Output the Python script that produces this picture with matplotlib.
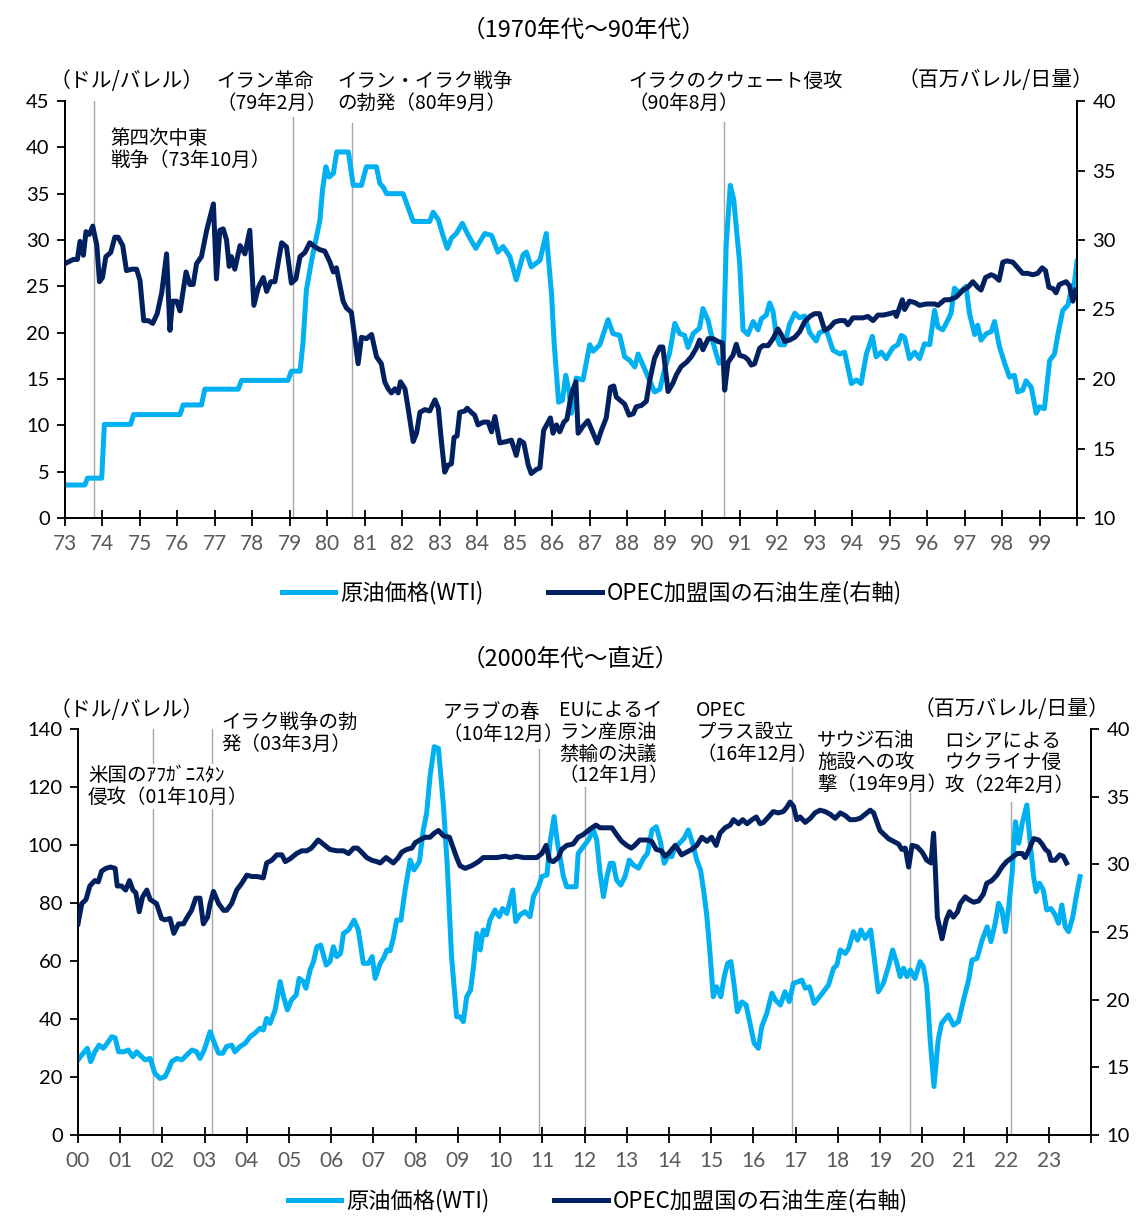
import matplotlib
matplotlib.use('Agg')
import matplotlib.pyplot as plt
from matplotlib.lines import Line2D

plt.rcParams['font.family'] = ['Noto Sans CJK JP', 'DejaVu Sans']

LIGHT = '#00B0F0'
DARK = '#002060'
GRAY_LINE = '#A6A6A6'

# ---- 1970s-90s ----
wti70_t = [1973.0, 1973.53, 1973.6, 1973.98, 1974.05, 1974.75, 1974.83, 1976.07, 1976.15, 1976.64,
           1976.73, 1977.62, 1977.71, 1978.95, 1979.04, 1979.27, 1979.35, 1979.44, 1979.58, 1979.8,
           1979.87, 1979.96, 1980.05, 1980.16, 1980.25, 1980.56, 1980.69, 1980.91, 1981.04, 1981.31,
           1981.4, 1981.49, 1981.58, 1982.02, 1982.29, 1982.73, 1982.82, 1982.96, 1983.09, 1983.2,
           1983.31, 1983.44, 1983.6, 1983.8, 1983.96, 1984.2, 1984.38, 1984.55, 1984.69, 1984.87,
           1985.04, 1985.22, 1985.31, 1985.44, 1985.67, 1985.84, 1985.98, 1986.05, 1986.17, 1986.27,
           1986.36, 1986.45, 1986.51, 1986.64, 1986.82, 1987.0, 1987.09, 1987.27, 1987.49, 1987.62,
           1987.8, 1987.93, 1988.07, 1988.2, 1988.29, 1988.56, 1988.73, 1988.87, 1989.0, 1989.13,
           1989.27, 1989.4, 1989.53, 1989.62, 1989.76, 1989.93, 1990.02, 1990.16, 1990.29, 1990.45,
           1990.56, 1990.64, 1990.75, 1990.84, 1991.0, 1991.09, 1991.22, 1991.36, 1991.49, 1991.58,
           1991.71, 1991.8, 1991.89, 1991.98, 1992.07, 1992.2, 1992.33, 1992.47, 1992.6, 1992.73,
           1992.87, 1993.04, 1993.13, 1993.31, 1993.49, 1993.67, 1993.8, 1993.98, 1994.11, 1994.24,
           1994.38, 1994.54, 1994.64, 1994.78, 1994.91, 1995.09, 1995.22, 1995.31, 1995.4, 1995.53,
           1995.67, 1995.8, 1995.93, 1996.07, 1996.2, 1996.29, 1996.42, 1996.56, 1996.64, 1996.73,
           1996.87, 1997.04, 1997.13, 1997.27, 1997.35, 1997.44, 1997.58, 1997.71, 1997.8, 1997.93,
           1998.07, 1998.2, 1998.33, 1998.42, 1998.55, 1998.64, 1998.78, 1998.91, 1999.0, 1999.13,
           1999.27, 1999.4, 1999.49, 1999.62, 1999.76, 1999.84, 1999.93, 2000.0]
wti70_v = [3.56, 3.56, 4.3, 4.3, 10.1, 10.1, 11.16, 11.16, 12.2, 12.2,
           13.9, 13.9, 14.85, 14.85, 15.85, 15.85, 18.9, 24.6, 27.8, 32.1,
           35.4, 37.9, 36.8, 37.2, 39.5, 39.5, 35.9, 35.9, 37.9, 37.9,
           36.1, 35.7, 35.0, 35.0, 32.0, 32.0, 33.0, 32.2, 30.4, 29.1,
           30.2, 30.7, 31.8, 30.2, 29.1, 30.7, 30.5, 28.7, 29.3, 28.2,
           25.7, 28.4, 28.7, 27.1, 27.8, 30.7, 24.2, 18.9, 12.5, 12.7,
           15.4, 13.6, 11.3, 15.1, 14.9, 18.7, 18.0, 18.7, 21.4, 19.9,
           19.7, 17.4, 17.0, 16.3, 17.7, 15.2, 13.6, 13.9, 16.1, 17.8,
           21.0, 19.9, 19.7, 18.4, 19.9, 20.5, 22.6, 21.3, 18.9, 16.7,
           17.1, 29.5, 35.9, 34.4, 27.5, 20.3, 19.8, 21.2, 20.3, 21.5,
           21.9, 23.2, 22.3, 19.6, 18.7, 18.7, 20.9, 22.1, 21.6, 21.8,
           20.0, 19.1, 20.0, 20.3, 18.1, 17.7, 17.9, 14.5, 14.9, 14.5,
           17.7, 19.6, 17.4, 17.9, 17.2, 18.4, 18.7, 19.7, 19.5, 17.2,
           17.9, 17.2, 18.8, 18.7, 22.4, 20.6, 20.3, 21.4, 22.1, 24.8,
           24.3, 25.0, 22.1, 19.8, 20.8, 19.2, 19.9, 20.1, 21.2, 18.5,
           16.7, 15.2, 15.4, 13.6, 13.8, 14.8, 14.1, 11.3, 12.0, 11.8,
           17.0, 17.7, 19.8, 22.4, 23.0, 24.5, 25.4, 27.7]

opec70_t = [1973.0, 1973.22, 1973.33, 1973.4, 1973.49, 1973.56, 1973.65, 1973.74, 1973.85, 1973.92,
            1974.0, 1974.09, 1974.22, 1974.33, 1974.42, 1974.54, 1974.64, 1974.78, 1974.91, 1975.0,
            1975.1, 1975.22, 1975.34, 1975.46, 1975.58, 1975.71, 1975.8, 1975.87, 1975.98, 1976.07,
            1976.23, 1976.33, 1976.42, 1976.51, 1976.64, 1976.78, 1976.96, 1977.04, 1977.13, 1977.22,
            1977.31, 1977.38, 1977.44, 1977.53, 1977.67, 1977.8, 1977.93, 1978.04, 1978.16, 1978.29,
            1978.38, 1978.49, 1978.6, 1978.69, 1978.78, 1978.91, 1979.04, 1979.16, 1979.27, 1979.4,
            1979.53, 1979.67, 1979.8, 1979.93, 1980.07, 1980.16, 1980.24, 1980.33, 1980.42, 1980.51,
            1980.64, 1980.73, 1980.82, 1980.91, 1981.04, 1981.18, 1981.31, 1981.44, 1981.53, 1981.62,
            1981.71, 1981.8, 1981.89, 1981.95, 1982.07, 1982.16, 1982.29, 1982.38, 1982.47, 1982.6,
            1982.73, 1982.87, 1982.96, 1983.04, 1983.13, 1983.22, 1983.31, 1983.38, 1983.46, 1983.53,
            1983.67, 1983.73, 1983.84, 1983.93, 1984.02, 1984.16, 1984.29, 1984.38, 1984.47, 1984.6,
            1984.78, 1984.91, 1985.04, 1985.13, 1985.24, 1985.36, 1985.44, 1985.58, 1985.67, 1985.77,
            1985.89, 1985.95, 1986.02, 1986.11, 1986.2, 1986.31, 1986.39, 1986.51, 1986.63, 1986.69,
            1986.82, 1986.95, 1987.09, 1987.2, 1987.31, 1987.44, 1987.55, 1987.64, 1987.71, 1987.84,
            1987.93, 1988.05, 1988.16, 1988.24, 1988.38, 1988.51, 1988.6, 1988.73, 1988.87, 1988.95,
            1989.09, 1989.22, 1989.31, 1989.44, 1989.58, 1989.71, 1989.84, 1989.93, 1990.02, 1990.16,
            1990.29, 1990.42, 1990.54, 1990.6, 1990.69, 1990.82, 1990.91, 1991.0, 1991.13, 1991.22,
            1991.31, 1991.4, 1991.53, 1991.62, 1991.76, 1991.89, 1992.02, 1992.11, 1992.2, 1992.33,
            1992.47, 1992.6, 1992.73, 1992.87, 1993.0, 1993.13, 1993.27, 1993.4, 1993.53, 1993.67,
            1993.8, 1993.89, 1994.02, 1994.15, 1994.29, 1994.42, 1994.56, 1994.69, 1994.83, 1995.0,
            1995.13, 1995.18, 1995.34, 1995.4, 1995.53, 1995.67, 1995.8, 1995.98, 1996.2, 1996.29,
            1996.47, 1996.6, 1996.78, 1996.96, 1997.09, 1997.22, 1997.35, 1997.44, 1997.56, 1997.71,
            1997.8, 1997.92, 1998.02, 1998.13, 1998.29, 1998.42, 1998.55, 1998.68, 1998.82, 1998.95,
            1999.07, 1999.16, 1999.25, 1999.36, 1999.44, 1999.53, 1999.71, 1999.8, 1999.89, 1999.97]
opec70_v = [28.3, 28.6, 28.6, 29.9, 28.9, 30.6, 30.4, 31.0, 29.6, 27.0,
            27.3, 28.8, 29.1, 30.2, 30.2, 29.6, 27.8, 27.9, 27.9, 27.1,
            24.2, 24.2, 24.0, 24.7, 26.2, 29.0, 23.5, 25.6, 25.6, 24.9,
            27.7, 26.8, 26.8, 28.3, 28.8, 30.7, 32.6, 27.2, 30.7, 30.8,
            30.0, 28.1, 28.8, 27.9, 29.6, 29.0, 30.7, 25.3, 26.6, 27.3,
            26.3, 27.0, 27.0, 28.4, 29.8, 29.5, 26.9, 27.2, 28.8, 29.1,
            29.8, 29.5, 29.3, 29.2, 28.4, 27.7, 28.0, 26.8, 25.6, 25.1,
            24.8, 23.0, 21.1, 23.0, 22.9, 23.2, 21.6, 21.1, 19.8, 19.3,
            19.0, 19.3, 19.0, 19.8, 19.3, 17.8, 15.5, 16.1, 17.6, 17.8,
            17.7, 18.5, 17.9, 15.6, 13.3, 13.8, 13.9, 15.8, 15.9, 17.6,
            17.7, 17.9, 17.6, 17.4, 16.7, 16.9, 16.9, 16.2, 17.3, 15.4,
            15.5, 15.6, 14.5, 15.6, 15.4, 13.8, 13.2, 13.5, 13.6, 16.3,
            16.9, 17.2, 16.1, 16.7, 16.2, 16.9, 17.1, 18.9, 19.8, 16.1,
            16.6, 17.0, 16.1, 15.4, 16.3, 17.2, 19.4, 19.5, 18.7, 18.4,
            18.2, 17.4, 17.5, 18.0, 18.1, 18.4, 19.9, 21.5, 22.3, 22.3,
            19.1, 19.7, 20.3, 20.9, 21.2, 21.6, 22.2, 22.8, 22.1, 22.9,
            22.9, 22.7, 22.6, 19.2, 21.2, 21.7, 22.5, 21.7, 21.6, 21.4,
            21.0, 21.1, 22.2, 22.4, 22.4, 22.9, 23.6, 23.2, 22.7, 22.8,
            23.0, 23.4, 24.1, 24.5, 24.7, 24.7, 23.5, 23.7, 24.1, 24.2,
            24.2, 23.9, 24.4, 24.4, 24.4, 24.5, 24.2, 24.6, 24.6, 24.7,
            24.8, 24.5, 25.7, 25.0, 25.6, 25.5, 25.3, 25.4, 25.4, 25.3,
            25.7, 25.7, 25.9, 26.4, 26.6, 27.0, 26.6, 26.4, 27.3, 27.5,
            27.4, 27.1, 28.4, 28.5, 28.4, 28.0, 27.6, 27.6, 27.5, 27.6,
            28.0, 27.8, 26.6, 26.5, 26.2, 26.8, 27.0, 26.7, 25.6, 26.4]

# ---- 2000s-latest ----
wti00_t = [2000.0, 2000.09, 2000.22, 2000.3, 2000.4, 2000.5, 2000.6, 2000.69, 2000.8, 2000.88,
           2000.96, 2001.09, 2001.19, 2001.3, 2001.39, 2001.47, 2001.59, 2001.71, 2001.82, 2001.94,
           2002.06, 2002.14, 2002.22, 2002.34, 2002.46, 2002.58, 2002.7, 2002.81, 2002.89, 2002.99,
           2003.13, 2003.25, 2003.33, 2003.43, 2003.52, 2003.64, 2003.72, 2003.84, 2003.96, 2004.08,
           2004.19, 2004.31, 2004.39, 2004.47, 2004.55, 2004.67, 2004.79, 2004.87, 2004.96, 2005.06,
           2005.17, 2005.24, 2005.34, 2005.4, 2005.5, 2005.58, 2005.66, 2005.75, 2005.88, 2005.97,
           2006.05, 2006.13, 2006.22, 2006.29, 2006.41, 2006.54, 2006.64, 2006.76, 2006.88, 2006.97,
           2007.04, 2007.16, 2007.24, 2007.32, 2007.39, 2007.47, 2007.55, 2007.65, 2007.75, 2007.87,
           2007.96, 2008.09, 2008.18, 2008.26, 2008.34, 2008.44, 2008.54, 2008.66, 2008.75, 2008.85,
           2008.97, 2009.05, 2009.13, 2009.21, 2009.3, 2009.37, 2009.45, 2009.53, 2009.6, 2009.68,
           2009.76, 2009.88, 2009.98, 2010.06, 2010.16, 2010.24, 2010.3, 2010.37, 2010.47, 2010.59,
           2010.71, 2010.79, 2010.91, 2010.99, 2011.11, 2011.18, 2011.28, 2011.36, 2011.42, 2011.5,
           2011.58, 2011.7, 2011.8, 2011.85, 2011.97, 2012.09, 2012.21, 2012.29, 2012.37, 2012.45,
           2012.53, 2012.61, 2012.68, 2012.76, 2012.86, 2012.96, 2013.06, 2013.16, 2013.28, 2013.4,
           2013.49, 2013.6, 2013.7, 2013.79, 2013.89, 2013.97, 2014.07, 2014.15, 2014.25, 2014.36,
           2014.46, 2014.56, 2014.66, 2014.75, 2014.82, 2014.9, 2014.98, 2015.05, 2015.13, 2015.23,
           2015.31, 2015.39, 2015.47, 2015.55, 2015.62, 2015.73, 2015.83, 2015.92, 2016.02, 2016.12,
           2016.2, 2016.32, 2016.44, 2016.52, 2016.64, 2016.75, 2016.85, 2016.95, 2017.07, 2017.15,
           2017.23, 2017.33, 2017.44, 2017.54, 2017.66, 2017.78, 2017.9, 2017.98, 2018.06, 2018.18,
           2018.26, 2018.37, 2018.47, 2018.55, 2018.65, 2018.78, 2018.86, 2018.96, 2019.08, 2019.2,
           2019.3, 2019.4, 2019.48, 2019.56, 2019.64, 2019.72, 2019.83, 2019.95, 2020.03, 2020.11,
           2020.19, 2020.28, 2020.38, 2020.46, 2020.62, 2020.74, 2020.86, 2020.98, 2021.1, 2021.18,
           2021.3, 2021.42, 2021.54, 2021.63, 2021.73, 2021.81, 2021.89, 2021.97, 2022.05, 2022.13,
           2022.21, 2022.29, 2022.37, 2022.48, 2022.56, 2022.64, 2022.7, 2022.78, 2022.87, 2022.95,
           2023.05, 2023.15, 2023.23, 2023.31, 2023.39, 2023.47, 2023.57, 2023.65, 2023.74]
wti00_v = [25.9, 27.6, 29.9, 25.3, 28.7, 31.0, 29.9, 31.6, 33.9, 33.5,
           28.7, 28.7, 29.3, 27.0, 28.7, 27.5, 25.9, 26.4, 21.3, 19.5,
           20.1, 22.4, 25.3, 26.4, 25.9, 27.6, 29.3, 28.7, 26.4, 29.3,
           35.6, 31.0, 28.2, 28.2, 30.5, 31.0, 28.7, 30.5, 31.6, 33.9,
           35.1, 36.8, 36.2, 40.2, 38.5, 43.1, 52.9, 47.7, 43.1, 46.6,
           48.3, 54.0, 52.9, 50.6, 56.9, 59.8, 64.9, 65.5, 58.6, 59.8,
           64.9, 61.5, 62.6, 69.5, 70.7, 74.1, 70.7, 59.2, 59.2, 61.5,
           54.0, 59.2, 61.0, 63.8, 63.5, 67.8, 74.1, 74.1, 84.5, 94.8,
           91.4, 94.3, 105.2, 110.9, 123.6, 133.9, 133.3, 113.2, 92.5, 61.5,
           40.8, 40.8, 39.1, 47.7, 50.0, 58.0, 69.5, 63.8, 70.7, 69.0,
           74.1, 77.6, 75.3, 78.1, 76.4, 81.0, 84.5, 73.6, 75.9, 77.0,
           75.3, 82.2, 85.6, 89.1, 89.7, 100.6, 109.8, 100.6, 96.0, 89.1,
           85.6, 85.6, 85.6, 97.1, 99.4, 101.7, 105.2, 101.7, 90.2, 82.2,
           89.1, 93.7, 93.7, 87.9, 86.2, 89.1, 94.8, 93.1, 92.0, 95.4,
           97.1, 105.2, 106.3, 101.7, 93.7, 96.0, 96.0, 99.4, 100.6, 102.3,
           105.2, 100.6, 94.8, 91.4, 84.5, 75.3, 61.5, 47.7, 51.1, 47.7,
           54.6, 59.2, 59.8, 51.1, 42.5, 45.9, 44.8, 38.5, 31.6, 29.9,
           37.4, 42.0, 48.9, 46.6, 44.8, 49.4, 46.0, 52.3, 52.9, 53.4,
           50.6, 51.1, 45.4, 47.1, 49.4, 51.7, 57.5, 58.6, 63.8, 62.6,
           64.4, 70.1, 67.2, 70.7, 67.8, 70.7, 61.5, 49.4, 52.3, 58.0,
           63.8, 59.2, 54.6, 57.5, 54.6, 56.9, 54.0, 59.8, 58.0, 51.1,
           32.8, 16.7, 32.8, 38.5, 41.4, 37.9, 39.1, 46.6, 53.4, 60.3,
           60.9, 67.2, 71.8, 66.7, 73.0, 79.9, 77.6, 70.1, 78.7, 90.2,
           108.0, 100.6, 107.5, 113.8, 100.6, 89.1, 83.9, 86.8, 84.5, 77.6,
           78.1, 75.9, 73.0, 79.3, 71.8, 70.1, 75.3, 82.2, 89.1]

opec00_t = [2000.0, 2000.09, 2000.19, 2000.28, 2000.4, 2000.48, 2000.56, 2000.66, 2000.77, 2000.88,
            2000.93, 2001.03, 2001.13, 2001.22, 2001.3, 2001.37, 2001.45, 2001.53, 2001.63, 2001.71,
            2001.86, 2001.98, 2002.06, 2002.18, 2002.27, 2002.38, 2002.5, 2002.57, 2002.69, 2002.79,
            2002.89, 2002.97, 2003.07, 2003.13, 2003.21, 2003.33, 2003.45, 2003.52, 2003.64, 2003.76,
            2003.88, 2004.0, 2004.12, 2004.24, 2004.39, 2004.47, 2004.59, 2004.71, 2004.83, 2004.91,
            2005.02, 2005.18, 2005.3, 2005.42, 2005.53, 2005.69, 2005.81, 2005.97, 2006.13, 2006.29,
            2006.41, 2006.53, 2006.62, 2006.72, 2006.84, 2006.96, 2007.08, 2007.16, 2007.3, 2007.47,
            2007.59, 2007.67, 2007.79, 2007.91, 2007.99, 2008.1, 2008.22, 2008.34, 2008.44, 2008.54,
            2008.66, 2008.8, 2008.89, 2008.97, 2009.05, 2009.17, 2009.33, 2009.49, 2009.6, 2009.76,
            2009.92, 2010.12, 2010.24, 2010.39, 2010.55, 2010.71, 2010.87, 2010.99, 2011.09, 2011.17,
            2011.26, 2011.38, 2011.46, 2011.58, 2011.73, 2011.85, 2011.97, 2012.13, 2012.27, 2012.37,
            2012.53, 2012.65, 2012.76, 2012.88, 2013.0, 2013.11, 2013.19, 2013.31, 2013.47, 2013.59,
            2013.7, 2013.82, 2013.91, 2013.99, 2014.07, 2014.15, 2014.22, 2014.3, 2014.42, 2014.54,
            2014.66, 2014.78, 2014.9, 2015.01, 2015.12, 2015.21, 2015.33, 2015.45, 2015.53, 2015.65,
            2015.75, 2015.85, 2015.97, 2016.07, 2016.16, 2016.24, 2016.36, 2016.47, 2016.59, 2016.71,
            2016.79, 2016.87, 2016.95, 2017.03, 2017.11, 2017.23, 2017.35, 2017.46, 2017.58, 2017.7,
            2017.82, 2017.94, 2018.06, 2018.18, 2018.29, 2018.41, 2018.53, 2018.65, 2018.77, 2018.85,
            2018.93, 2019.0, 2019.1, 2019.2, 2019.32, 2019.44, 2019.52, 2019.6, 2019.68, 2019.76,
            2019.88, 2020.0, 2020.11, 2020.21, 2020.27, 2020.31, 2020.36, 2020.47, 2020.57, 2020.65,
            2020.74, 2020.84, 2020.9, 2021.02, 2021.1, 2021.22, 2021.34, 2021.45, 2021.53, 2021.65,
            2021.77, 2021.89, 2022.0, 2022.13, 2022.25, 2022.37, 2022.44, 2022.52, 2022.64, 2022.76,
            2022.84, 2022.92, 2023.0, 2023.05, 2023.15, 2023.26, 2023.34, 2023.42]
opec00_v = [25.6, 27.1, 27.4, 28.4, 28.8, 28.7, 29.5, 29.7, 29.8, 29.7,
            28.4, 28.4, 28.1, 28.8, 28.1, 27.9, 26.5, 27.6, 28.1, 27.4,
            27.1, 26.0, 25.9, 26.0, 24.9, 25.6, 25.6, 26.0, 26.6, 27.5,
            27.5, 25.6, 26.1, 27.1, 28.0, 27.1, 26.6, 26.6, 27.1, 28.1,
            28.6, 29.2, 29.1, 29.1, 29.0, 30.1, 30.3, 30.7, 30.7, 30.2,
            30.4, 30.8, 31.0, 31.0, 31.2, 31.8, 31.5, 31.1, 31.0, 31.0,
            30.8, 31.2, 31.2, 30.9, 30.5, 30.3, 30.2, 30.1, 30.5, 30.1,
            30.5, 30.9, 31.1, 31.2, 31.6, 31.8, 32.0, 32.0, 32.3, 32.5,
            32.1, 32.0, 31.2, 30.5, 29.9, 29.7, 29.9, 30.2, 30.5, 30.5,
            30.5, 30.6, 30.5, 30.6, 30.5, 30.5, 30.5, 30.8, 31.4, 30.3,
            30.2, 30.5, 31.1, 31.4, 31.5, 32.0, 32.2, 32.6, 32.9, 32.7,
            32.7, 32.7, 32.2, 31.7, 31.4, 31.2, 31.4, 31.8, 31.8, 31.7,
            31.1, 31.0, 30.6, 30.8, 31.1, 31.4, 31.1, 30.7, 30.9, 31.1,
            31.4, 32.0, 31.7, 32.0, 31.4, 32.3, 32.7, 32.9, 33.3, 33.0,
            33.3, 33.0, 33.3, 33.5, 33.0, 33.1, 33.5, 33.9, 33.8, 33.9,
            34.2, 34.6, 34.3, 33.3, 33.5, 33.1, 33.4, 33.8, 34.0, 33.9,
            33.7, 33.4, 33.8, 33.6, 33.3, 33.3, 33.4, 33.7, 34.0, 33.8,
            33.1, 32.5, 32.2, 31.9, 31.7, 31.5, 31.1, 31.2, 29.8, 31.4,
            31.3, 30.9, 30.3, 30.1, 32.3, 29.8, 26.1, 24.5, 25.9, 26.5,
            26.1, 26.5, 27.1, 27.6, 27.4, 27.2, 27.3, 27.8, 28.6, 28.8,
            29.2, 29.8, 30.2, 30.5, 30.8, 30.8, 30.5, 31.0, 31.9, 31.8,
            31.5, 31.1, 30.9, 30.3, 30.3, 30.7, 30.6, 30.1]

# events: (date, top of line on left axis)
events70 = [1973.77, 1979.08, 1980.67, 1990.58]
events70_top = [45, 43.3, 42.6, 42.7]
events00 = [2001.77, 2003.17, 2010.92, 2012.0, 2016.92, 2019.7, 2022.1]
events00_top = [140, 140, 133, 120, 127, 118, 115]

W, H = 1139, 1216
fig = plt.figure(figsize=(W / 100, H / 100), dpi=100)


def fx(px):
    return px / W


def fy(py):
    return 1 - py / H


def panel(rect, x0, x1, lt, lv, rt, rv, ylim_l, ystep_l, ev, ev_top):
    ax = fig.add_axes(rect)
    ax2 = ax.twinx()
    for x, top in zip(ev, ev_top):
        ax.plot([x, x], [0, top], color=GRAY_LINE, lw=1.0, zorder=1)
    ax.plot(lt, lv, color=LIGHT, lw=3.6, solid_joinstyle='round', zorder=3)
    ax2.plot(rt, rv, color=DARK, lw=3.6, solid_joinstyle='round', zorder=3)
    ax.set_xlim(x0, x1)
    ax.set_ylim(0, ylim_l)
    ax2.set_ylim(10, 40)
    ax.set_yticks(range(0, ylim_l + 1, ystep_l))
    ax2.set_yticks(range(10, 41, 5))
    years = list(range(int(x0), int(x1) + 1))
    ax.set_xticks(years)
    ax.set_xticklabels(['%02d' % (y % 100) for y in years[:-1]] + [''])
    for a in (ax, ax2):
        a.spines['top'].set_visible(False)
        for s in ('left', 'right', 'bottom'):
            a.spines[s].set_linewidth(1.3)
    ax.tick_params(axis='y', direction='out', length=6, width=1.3, labelsize=14.5, pad=5)
    ax2.tick_params(axis='y', direction='out', length=6, width=1.3, labelsize=14.5, pad=5)
    ax.tick_params(axis='x', direction='inout', length=11, width=1.3, labelsize=15,
                   labelcolor='#595959', pad=6)
    for lab in ax.get_yticklabels() + ax2.get_yticklabels() + ax.get_xticklabels():
        lab.set_fontfamily(['Lato', 'DejaVu Sans'])
    return ax, ax2


def legend(cy, cx):
    handles = [Line2D([], [], color=LIGHT, lw=3.6), Line2D([], [], color=DARK, lw=3.6)]
    fig.legend(handles, ['原油価格(WTI)', 'OPEC加盟国の石油生産(右軸)'],
               loc='center', bbox_to_anchor=(fx(cx), fy(cy)), ncol=2, frameon=False,
               fontsize=16, handlelength=2.4, handletextpad=0.25, columnspacing=2.9,
               borderpad=0.2)


ann = dict(fontsize=14, linespacing=1.05, va='top', ha='left')

# ---- top panel ----
panel([fx(65), fy(518), fx(1077 - 65), (518 - 101) / H], 1973, 2000,
      wti70_t, wti70_v, opec70_t, opec70_v, 45, 5, events70, events70_top)
fig.text(fx(584), fy(30), '（1970年代～90年代）', fontsize=17, ha='center', va='center')
fig.text(fx(50), fy(81), '（ドル/バレル）', fontsize=15, ha='left', va='center')
fig.text(fx(1094), fy(80), '（百万バレル/日量）', fontsize=15, ha='right', va='center')
fig.text(fx(110), fy(128), '第四次中東\n戦争（73年10月）', **ann)
fig.text(fx(216), fy(71), 'イラン革命\n（79年2月）', **ann)
fig.text(fx(337), fy(71), 'イラン・イラク戦争\nの勃発（80年9月）', **ann)
fig.text(fx(628), fy(71), 'イラクのクウェート侵攻\n（90年8月）', **ann)
legend(593, 592)

# ---- bottom panel ----
panel([fx(78), fy(1135), fx(1091 - 78), (1135 - 729) / H], 2000, 2024,
      wti00_t, wti00_v, opec00_t, opec00_v, 140, 20, events00, events00_top)
fig.text(fx(570), fy(659), '（2000年代～直近）', fontsize=17, ha='center', va='center')
fig.text(fx(50), fy(710), '（ドル/バレル）', fontsize=15, ha='left', va='center')
fig.text(fx(1110), fy(709), '（百万バレル/日量）', fontsize=15, ha='right', va='center')
fig.text(fx(221), fy(712), 'イラク戦争の勃\n発（03年3月）', **ann)
fig.text(fx(88), fy(765), '米国のｱﾌｶﾞﾆｽﾀﾝ\n侵攻（01年10月）',
         bbox=dict(facecolor='white', edgecolor='none', pad=1), **ann)
fig.text(fx(443), fy(702), 'アラブの春\n（10年12月）', **ann)
fig.text(fx(559), fy(700), 'EUによるイ\nラン産原油\n禁輸の決議\n（12年1月）', **ann)
fig.text(fx(696), fy(700), 'OPEC\nプラス設立\n（16年12月）', **ann)
fig.text(fx(817), fy(730), 'サウジ石油\n施設への攻\n撃（19年9月）', **ann)
fig.text(fx(944), fy(731), 'ロシアによる\nウクライナ侵\n攻（22年2月）', **ann)
legend(1201, 598)

fig.savefig('out.png', dpi=100)
